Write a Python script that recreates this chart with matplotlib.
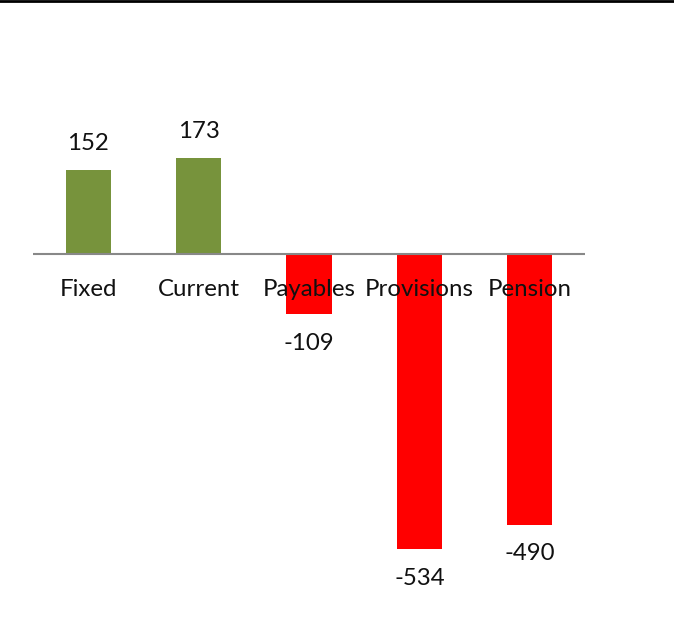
import matplotlib
matplotlib.use("Agg")
import matplotlib.pyplot as plt
from matplotlib.lines import Line2D

categories = ["Fixed", "Current", "Payables", "Provisions", "Pension"]
values = [152, 173, -109, -534, -490]
colors = ["#77933C", "#77933C", "#FF0000", "#FF0000", "#FF0000"]

W, H = 674, 628
fig = plt.figure(figsize=(W/100, H/100), dpi=100)
plt.rcParams['font.family'] = ['Lato', 'DejaVu Sans']

scale = 0.5526  # px per unit
y0 = 254
ymin, ymax = -600, 300
top_px = y0 - ymax*scale
bot_px = y0 - ymin*scale
ax = fig.add_axes([33/W, 1 - bot_px/H, (585-33)/W, (bot_px-top_px)/H])
ax.set_xlim(-0.5, 4.5)
ax.set_ylim(ymin, ymax)
x = list(range(len(categories)))
ax.bar(x, values, width=0.41, color=colors, zorder=2)
ax.axhline(0, color="#888888", lw=1.5, zorder=3)
for s in ax.spines.values():
    s.set_visible(False)
ax.set_xticks([]); ax.set_yticks([])

fs = 17.3
for xi, v, c in zip(x, values, categories):
    ax.annotate(c, (xi, 0), xytext=(0, -36*0.72), textcoords="offset points",
                ha="center", va="center", fontsize=fs, color="#111111", zorder=4)
    if v >= 0:
        ax.annotate(str(v), (xi, v), xytext=(0, 27*0.72), textcoords="offset points",
                    ha="center", va="center", fontsize=fs, color="#111111")
    else:
        ax.annotate(str(v), (xi, v), xytext=(0, -29*0.72), textcoords="offset points",
                    ha="center", va="center", fontsize=fs, color="#111111")

fig.add_artist(Line2D([0, 1], [1 - 1/H, 1 - 1/H], transform=fig.transFigure, color="black", lw=2))
fig.savefig("out.png", dpi=100)
